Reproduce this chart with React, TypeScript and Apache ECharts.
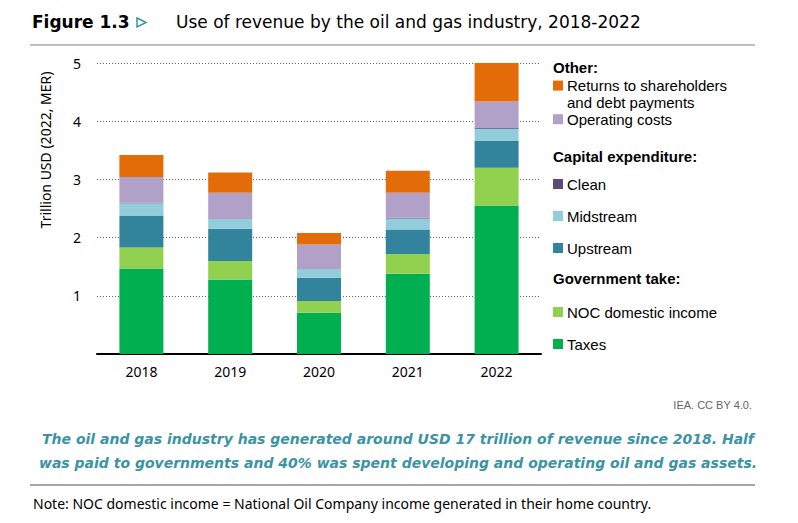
import React, { useEffect, useRef } from "react";
import * as echarts from "echarts";

const years = ["2018", "2019", "2020", "2021", "2022"];
const taxes = [1.47, 1.28, 0.71, 1.38, 2.55];
const nocIncome = [0.36, 0.32, 0.2, 0.34, 0.65];
const upstream = [0.55, 0.55, 0.4, 0.42, 0.46];
const midstream = [0.21, 0.17, 0.15, 0.19, 0.21];
const clean = [0.01, 0.01, 0.01, 0.01, 0.02];
const operatingCosts = [0.44, 0.44, 0.41, 0.43, 0.45];
const returns = [0.38, 0.35, 0.2, 0.38, 0.66];
const yTicks = [0, 1, 2, 3, 4, 5];

const seriesDefs = [
  { name: "Taxes", data: taxes, color: "#00b050" },
  { name: "NOC domestic income", data: nocIncome, color: "#92d050" },
  { name: "Upstream", data: upstream, color: "#31849b" },
  { name: "Midstream", data: midstream, color: "#92cddc" },
  { name: "Clean", data: clean, color: "#5f497a" },
  { name: "Operating costs", data: operatingCosts, color: "#b1a0c7" },
  { name: "Returns to shareholders and debt payments", data: returns, color: "#e36c09" },
];

const FONT = "'Noto Sans', 'Liberation Sans', Arial, sans-serif";
const LFONT = "'Liberation Sans', Arial, sans-serif";
const TFONT = "'DejaVu Sans', sans-serif";

export default function App() {
  const ref = useRef<HTMLDivElement>(null);
  useEffect(() => {
    document.body.style.margin = "0";
    const chart = echarts.init(ref.current!, null, { renderer: "svg" });
    const legendItems: { label: string; y: number; color?: string; header?: boolean; noBox?: boolean }[] = [
      { label: "Other:", y: 67, header: true },
      { label: "Returns to shareholders", y: 85.6, color: "#e36c09" },
      { label: "and debt payments", y: 102.4, noBox: true },
      { label: "Operating costs", y: 119.2, color: "#b1a0c7" },
      { label: "Capital expenditure:", y: 156, header: true },
      { label: "Clean", y: 184, color: "#5f497a" },
      { label: "Midstream", y: 216, color: "#92cddc" },
      { label: "Upstream", y: 248, color: "#31849b" },
      { label: "Government take:", y: 278, header: true },
      { label: "NOC domestic income", y: 312, color: "#92d050" },
      { label: "Taxes", y: 344, color: "#00b050" },
    ];
    const legendGraphics: any[] = [];
    legendItems.forEach((it) => {
      if (it.header) {
        legendGraphics.push({
          type: "text", x: 553, y: it.y,
          style: { text: it.label, font: `bold 15px ${LFONT}`, fill: "#000", textVerticalAlign: "middle" },
        });
      } else {
        if (!it.noBox) {
          legendGraphics.push({
            type: "rect", shape: { x: 553, y: it.y - 5, width: 10, height: 10 },
            style: { fill: it.color },
          });
        }
        legendGraphics.push({
          type: "text", x: 567, y: it.y,
          style: { text: it.label, font: `15px ${LFONT}`, fill: "#000", textVerticalAlign: "middle" },
        });
      }
    });

    chart.setOption({
      animation: false,
      grid: { left: 97, right: 257, top: 63, bottom: 169 },
      xAxis: {
        type: "category",
        data: years,
        axisLine: { lineStyle: { color: "#000", width: 2 } },
        axisTick: { show: false },
        axisLabel: { color: "#000", fontSize: 14, fontFamily: FONT, margin: 10 },
      },
      yAxis: {
        type: "value",
        min: yTicks[0],
        max: yTicks[yTicks.length - 1],
        interval: 1,
        axisLine: { show: false },
        axisTick: { show: false },
        axisLabel: {
          color: "#000", fontSize: 14, fontFamily: FONT, margin: 16,
          formatter: (v: number) => (v === 0 ? "" : String(v)),
        },
        splitLine: { lineStyle: { color: "#666", type: [1, 2], width: 1 } },
      },
      series: seriesDefs.map((s) => ({
        name: s.name,
        type: "bar",
        stack: "total",
        data: s.data,
        barWidth: 44,
        itemStyle: { color: s.color },
      })),
      graphic: [
        { type: "text", x: 32, y: 22, style: { text: "Figure 1.3", font: `bold 17px ${TFONT}`, fill: "#000", textVerticalAlign: "middle" } },
        { type: "polygon", shape: { points: [[137, 18], [146, 22.5], [137, 27]] }, style: { fill: "#fff", stroke: "#3b93a4", lineWidth: 1.5 } },
        { type: "text", x: 176, y: 22, style: { text: "Use of revenue by the oil and gas industry, 2018-2022", font: `17px ${TFONT}`, fill: "#000", textVerticalAlign: "middle" } },
        { type: "line", shape: { x1: 30, y1: 45, x2: 755, y2: 45 }, style: { stroke: "#aaa", lineWidth: 1.5 } },
        { type: "text", x: 45, y: 150, rotation: Math.PI / 2, style: { text: "Trillion USD (2022, MER)", font: `14px ${FONT}`, fill: "#000", textAlign: "center", textVerticalAlign: "middle" } },
        ...legendGraphics,
        { type: "text", x: 752, y: 405, style: { text: "IEA. CC BY 4.0.", font: `11px ${LFONT}`, fill: "#666", textAlign: "right", textVerticalAlign: "middle" } },
        { type: "text", x: 398, y: 439, style: { text: "The oil and gas industry has generated around USD 17 trillion of revenue since 2018. Half", font: `italic bold 14px ${TFONT}`, fill: "#3b93a4", textAlign: "center", textVerticalAlign: "middle" } },
        { type: "text", x: 398, y: 463, style: { text: "was paid to governments and 40% was spent developing and operating oil and gas assets.", font: `italic bold 14px ${TFONT}`, fill: "#3b93a4", textAlign: "center", textVerticalAlign: "middle" } },
        { type: "line", shape: { x1: 30, y1: 485, x2: 755, y2: 485 }, style: { stroke: "#888", lineWidth: 1.5 } },
        { type: "text", x: 33, y: 503, style: { text: "Note: NOC domestic income = National Oil Company income generated in their home country.", font: `14px ${FONT}`, fill: "#000", textVerticalAlign: "middle" } },
      ],
    });
    return () => chart.dispose();
  }, []);
  return <div ref={ref} style={{ width: 798, height: 523 }} />;
}
